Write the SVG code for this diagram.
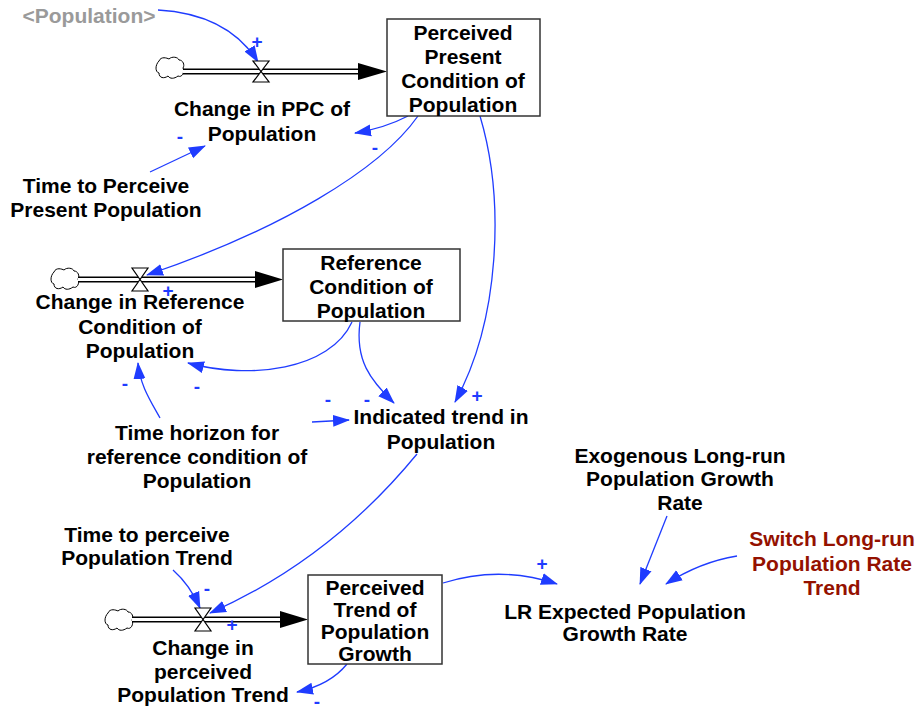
<svg xmlns="http://www.w3.org/2000/svg" width="918" height="711" viewBox="0 0 918 711">
<style>
text{font-family:"Liberation Sans",Arial,sans-serif;font-weight:bold;font-size:21px;text-anchor:middle;fill:#000}
.gray{fill:#9a9a9a}
.red{fill:#941100}
.sign{fill:#1f3cff;font-size:19px}
.link{fill:none;stroke:#1f3cff;stroke-width:1.3;marker-end:url(#ah)}
.box{fill:#fff;stroke:#333;stroke-width:1.5}
.pipeo{fill:none;stroke:#000;stroke-width:6}
.pipei{fill:none;stroke:#fff;stroke-width:3}
.valve{fill:#fff;stroke:#000;stroke-width:1.2}
.cloud{fill:#fff;stroke:#000;stroke-width:1}
</style>
<defs>
<marker id="ah" markerUnits="userSpaceOnUse" markerWidth="18" markerHeight="14" refX="16" refY="6" orient="auto" viewBox="0 0 18 12">
<path d="M0,0 L17,6 L0,12 Z" fill="#1f3cff"/>
</marker>
<path id="cl" d="M-11,-7 C-9,-12 -3,-10 -1,-9 C2,-12 8,-11 9,-8 C13,-8 15,-3 13,0 C15,4 12,10 8,8 C4,11 0,11 -2,8 C-6,11 -11,10 -11,5 C-15,4 -15,-3 -11,-7 Z"/>
</defs>

<g id="connectors">
<path class="link" d="M158,10 Q228,14 258,62"/>
<path class="link" d="M150,172 L205,146"/>
<path class="link" d="M408,116 Q385,128 355,133"/>
<path class="link" d="M418,116 C380,170 280,230 147,275"/>
<path class="link" d="M480,116 C505,200 500,320 455,402"/>
<path class="link" d="M352,322 C330,370 250,380 188,363"/>
<path class="link" d="M360,322 C355,360 370,380 394,403"/>
<path class="link" d="M160,418 C150,400 140,385 138,363"/>
<path class="link" d="M312,422 L349,420"/>
<path class="link" d="M417,454 Q330,560 210,613"/>
<path class="link" d="M173,570 Q190,585 200,608"/>
<path class="link" d="M347,664 Q330,685 297,692"/>
<path class="link" d="M443,583 Q500,565 557,584"/>
<path class="link" d="M667,516 L640,584"/>
<path class="link" d="M737,556 Q700,562 666,584"/>
</g>

<g id="flow-ppc">
<use href="#cl" class="cloud" x="170" y="68"/>
<path class="pipeo" d="M183,71.5 H360"/>
<path class="pipei" d="M183,71.5 H360"/>
<polygon points="358,63 387,71.5 358,80" fill="#000"/>
<polygon class="valve" points="253,61 269,61 261,71.5"/>
<polygon class="valve" points="253,82 269,82 261,71.5"/>
</g>

<g id="flow-ref">
<use href="#cl" class="cloud" x="65" y="279"/>
<path class="pipeo" d="M78,279.5 H257"/>
<path class="pipei" d="M78,279.5 H257"/>
<polygon points="255,271 283,279.5 255,288" fill="#000"/>
<polygon class="valve" points="132,268 148,268 140,279.5"/>
<polygon class="valve" points="132,291 148,291 140,279.5"/>
</g>

<g id="flow-trend">
<use href="#cl" class="cloud" x="119" y="620"/>
<path class="pipeo" d="M132,619.5 H282"/>
<path class="pipei" d="M132,619.5 H282"/>
<polygon points="280,611 308,619.5 280,628" fill="#000"/>
<polygon class="valve" points="195,608 211,608 203,619.5"/>
<polygon class="valve" points="195,631 211,631 203,619.5"/>
</g>

<g id="population-shadow"><text class="gray" x="89" y="23">&lt;Population&gt;</text></g>

<g id="perceived-present">
<rect class="box" x="387" y="19" width="153" height="97"/>
<text x="463" y="40">Perceived</text>
<text x="463" y="64">Present</text>
<text x="463" y="88">Condition of</text>
<text x="463" y="112">Population</text>
</g>

<g id="change-ppc">
<text x="262" y="116">Change in PPC of</text>
<text x="262" y="141">Population</text>
</g>

<g id="time-perceive-present">
<text x="106" y="193">Time to Perceive</text>
<text x="106" y="217">Present Population</text>
</g>

<g id="reference-condition">
<rect class="box" x="283" y="249" width="177" height="72"/>
<text x="371" y="270">Reference</text>
<text x="371" y="294">Condition of</text>
<text x="371" y="318">Population</text>
</g>

<g id="change-reference">
<text x="140" y="309">Change in Reference</text>
<text x="140" y="334">Condition of</text>
<text x="140" y="358">Population</text>
</g>

<g id="time-horizon">
<text x="197" y="440">Time horizon for</text>
<text x="197" y="464">reference condition of</text>
<text x="197" y="488">Population</text>
</g>

<g id="indicated-trend">
<text x="441" y="424">Indicated trend in</text>
<text x="441" y="449">Population</text>
</g>

<g id="time-perceive-trend">
<text x="147" y="542">Time to perceive</text>
<text x="147" y="565">Population Trend</text>
</g>

<g id="perceived-trend">
<rect class="box" x="308" y="575" width="134" height="89"/>
<text x="375" y="595">Perceived</text>
<text x="375" y="617">Trend of</text>
<text x="375" y="639">Population</text>
<text x="375" y="661">Growth</text>
</g>

<g id="change-perceived-trend">
<text x="203" y="655">Change in</text>
<text x="203" y="679">perceived</text>
<text x="203" y="702">Population Trend</text>
</g>

<g id="lr-expected">
<text x="625" y="619">LR Expected Population</text>
<text x="625" y="641">Growth Rate</text>
</g>

<g id="exogenous">
<text x="680" y="463">Exogenous Long-run</text>
<text x="680" y="486">Population Growth</text>
<text x="680" y="510">Rate</text>
</g>

<g id="switch">
<text class="red" x="832" y="546">Switch Long-run</text>
<text class="red" x="832" y="571">Population Rate</text>
<text class="red" x="832" y="595">Trend</text>
</g>

<g id="signs">
<text class="sign" x="257" y="48">+</text>
<text class="sign" x="180" y="143">-</text>
<text class="sign" x="375" y="154">-</text>
<text class="sign" x="168" y="297">+</text>
<text class="sign" x="197" y="393">-</text>
<text class="sign" x="125" y="390">-</text>
<text class="sign" x="367" y="406">-</text>
<text class="sign" x="328" y="406">-</text>
<text class="sign" x="477" y="402">+</text>
<text class="sign" x="207" y="595">-</text>
<text class="sign" x="232" y="631">+</text>
<text class="sign" x="317" y="708">-</text>
<text class="sign" x="542" y="570">+</text>
</g>
</svg>
